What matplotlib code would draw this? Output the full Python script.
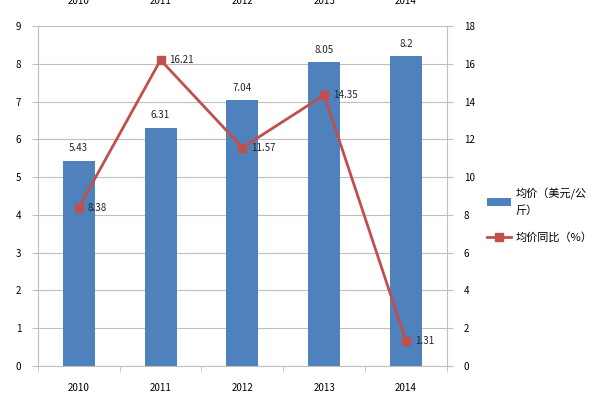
import matplotlib.pyplot as plt
import numpy as np

plt.rcParams['font.family'] = ['Noto Sans CJK SC', 'DejaVu Sans']

years = ['2010', '2011', '2012', '2013', '2014']
price = [5.43, 6.31, 7.04, 8.05, 8.2]
growth = [8.38, 16.21, 11.57, 14.35, 1.31]

bar_c = '#4F81BD'
line_c = '#C0504D'
grid_c = '#BFBFBF'

fig = plt.figure(figsize=(6, 4.03), dpi=100)
ax = fig.add_axes([0.063, 0.092, 0.682, 0.843])
x = np.arange(len(years))

ax.bar(x, price, width=0.39, color=bar_c, zorder=2, label='均价（美元/公\n斤）')
for xi, v in zip(x, price):
    ax.text(xi, v + 0.2, f'{v:g}', ha='center', va='bottom', fontsize=7, color='#222222')
ax.set_xlim(-0.5, 4.5)
ax.set_ylim(0, 9)
ax.set_yticks(range(10))
ax.yaxis.grid(True, color=grid_c, lw=0.8, zorder=0)
ax.set_xticks(x)
ax.set_xticklabels(years)
ax.set_xticks(np.arange(-0.5, 5, 1), minor=True)
ax.tick_params(axis='x', which='major', length=0, pad=12, labelsize=7)
ax.tick_params(axis='x', which='minor', length=4, color=grid_c)
ax.tick_params(axis='y', length=4, color=grid_c, labelsize=7, pad=8)
for s in ['top', 'right']:
    ax.spines[s].set_visible(False)
for s in ['left', 'bottom']:
    ax.spines[s].set_color(grid_c)

ax2 = ax.twinx()
ax2.plot(x, growth, color=line_c, lw=2, marker='s', markersize=5.5, label='均价同比（%）', zorder=3)
for xi, v in zip(x, growth):
    ax2.text(xi + 0.11, v, f'{v:g}', ha='left', va='center', fontsize=7, color='#222222')
ax2.set_ylim(0, 18)
ax2.set_yticks(range(0, 19, 2))
ax2.tick_params(axis='y', length=4, color=grid_c, labelsize=7, pad=8)
for s in ['top', 'left', 'bottom']:
    ax2.spines[s].set_visible(False)
ax2.spines['right'].set_color(grid_c)

# stray top labels, cut off at the edge like in the source image
for xi, y in zip(x, years):
    fx = 0.063 + 0.682 * (xi + 0.5) / 5
    fig.text(fx, 0.998, y, ha='center', va='center', fontsize=7)

h1, l1 = ax.get_legend_handles_labels()
h2, l2 = ax2.get_legend_handles_labels()
leg = fig.legend(h1 + h2, l1 + l2, loc='center left', bbox_to_anchor=(0.795, 0.465),
                 frameon=False, fontsize=8, labelspacing=1.5, handlelength=2.2,
                 handletextpad=0.4)
for t in leg.get_texts():
    t.set_linespacing(1.5)

fig.savefig('out.png', dpi=100)
